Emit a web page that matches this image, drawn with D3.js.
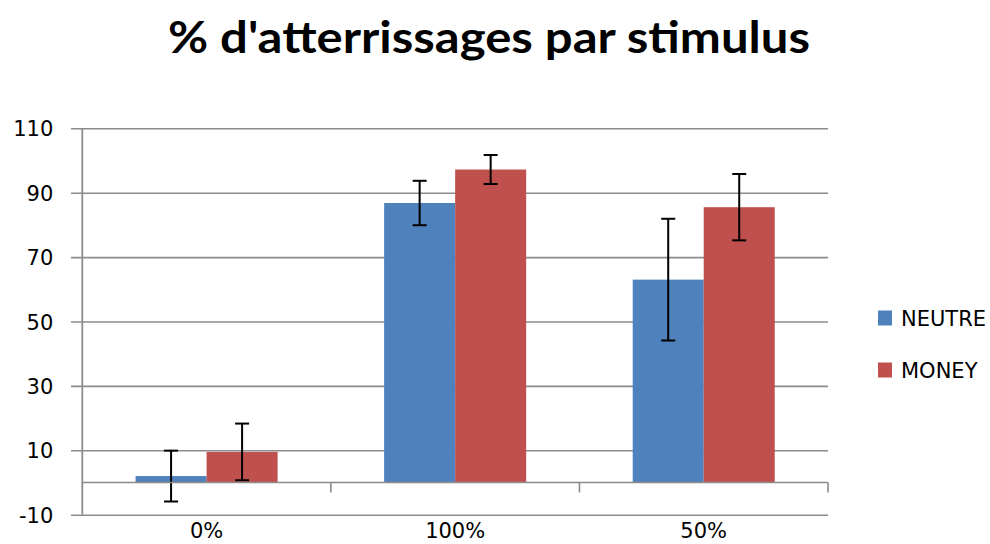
<!DOCTYPE html>
<html>
<head>
<meta charset="utf-8">
<script src="https://cdn.jsdelivr.net/npm/d3@7"></script>
<style>
  html, body { margin: 0; padding: 0; background: #fff; }
  svg { display: block; }
</style>
</head>
<body>
<svg id="chart" width="990" height="544"></svg>
<script>
// ---- Data ----
const categories = ["0%", "100%", "50%"];
const seriesNames = ["NEUTRE", "MONEY"];
const neutreValues = [2, 86.8, 63];
const moneyValues = [9.5, 97.2, 85.5];
const neutreErrors = [7.9, 6.9, 18.9];
const moneyErrors = [8.8, 4.5, 10.3];
const yTicks = [-10, 10, 30, 50, 70, 90, 110];
const seriesColors = ["#4F81BD", "#C0504D"];
const titleText = "% d'atterrissages par stimulus";

const seriesValues = [neutreValues, moneyValues];
const seriesErrors = [neutreErrors, moneyErrors];

// ---- Layout ----
const svg = d3.select("#chart");
const pLeft = 82.3, pRight = 828, pTop = 128.3, pBottom = 514.7;

const y = d3.scaleLinear().domain([-10, 110]).range([pBottom, pTop]);
const x0 = d3.scaleBand().domain(categories).range([pLeft, pRight]).padding(0);
const W = x0.bandwidth();
const gapHalf = W * 0.75 / 3.5;
const x1 = d3.scaleBand().domain(seriesNames).range([gapHalf, W - gapHalf]).padding(0);

const gridColor = "#8c8c8c";

// Title
svg.append("text")
  .attr("x", 489).attr("y", 53)
  .attr("text-anchor", "middle")
  .attr("font-family", "Lato, 'Open Sans', sans-serif")
  .attr("font-weight", "bold")
  .attr("font-size", 44)
  .attr("fill", "#000")
  .attr("textLength", 642)
  .attr("lengthAdjust", "spacingAndGlyphs")
  .text(titleText);

// Gridlines (with tick stubs to the left)
const yAxis = d3.axisLeft(y).tickValues(yTicks).tickFormat(d => String(d))
  .tickSize(-(pRight - pLeft)).tickSizeOuter(0).tickPadding(17);
const gY = svg.append("g").attr("transform", `translate(${pLeft},0)`).call(yAxis);
gY.select(".domain").remove();
gY.selectAll(".tick line").attr("stroke", gridColor).attr("stroke-width", 1.6).attr("x1", -11.3);
gY.selectAll(".tick text")
  .attr("font-family", "'DejaVu Sans', sans-serif")
  .attr("font-size", 21)
  .attr("fill", "#000")
  .attr("x", -29)
  .attr("dy", "0.36em");

// Vertical axis line
svg.append("line")
  .attr("x1", pLeft).attr("x2", pLeft)
  .attr("y1", y(110)).attr("y2", y(-10))
  .attr("stroke", gridColor).attr("stroke-width", 1.8);

// Bars
const groups = svg.append("g").selectAll("g")
  .data(categories)
  .join("g")
  .attr("transform", d => `translate(${x0(d)},0)`);

groups.each(function(cat, ci) {
  const g = d3.select(this);
  seriesNames.forEach((s, si) => {
    const v = seriesValues[si][ci];
    g.append("rect")
      .attr("x", x1(s))
      .attr("width", x1.bandwidth())
      .attr("y", y(Math.max(0, v)))
      .attr("height", Math.abs(y(v) - y(0)))
      .attr("fill", seriesColors[si]);
  });
});

// Category axis at zero
const xAxis = d3.axisBottom(x0).tickSize(0).tickSizeOuter(0);
svg.append("line")
  .attr("x1", pLeft).attr("x2", pRight)
  .attr("y1", y(0)).attr("y2", y(0))
  .attr("stroke", gridColor).attr("stroke-width", 1.6);
const boundaries = categories.map(c => x0(c) + W);
svg.append("g").selectAll("line")
  .data(boundaries)
  .join("line")
  .attr("x1", d => d).attr("x2", d => d)
  .attr("y1", y(0)).attr("y2", y(0) + 10)
  .attr("stroke", gridColor).attr("stroke-width", 1.6);

// Category labels at bottom
const gX = svg.append("g").attr("transform", `translate(0,${pBottom})`).call(xAxis);
gX.select(".domain").remove();
gX.selectAll(".tick text")
  .attr("font-family", "'DejaVu Sans', sans-serif")
  .attr("font-size", 21)
  .attr("fill", "#000")
  .attr("y", 8)
  .attr("dy", "0.71em");

// Error bars
const cap = 7;
groups.each(function(cat, ci) {
  const g = d3.select(this);
  seriesNames.forEach((s, si) => {
    const v = seriesValues[si][ci];
    const e = seriesErrors[si][ci];
    const cx = x1(s) + x1.bandwidth() / 2;
    const eb = g.append("g").attr("stroke", "#000").attr("stroke-width", 2);
    eb.append("line").attr("x1", cx).attr("x2", cx).attr("y1", y(v + e)).attr("y2", y(v - e));
    eb.append("line").attr("x1", cx - cap).attr("x2", cx + cap).attr("y1", y(v + e)).attr("y2", y(v + e));
    eb.append("line").attr("x1", cx - cap).attr("x2", cx + cap).attr("y1", y(v - e)).attr("y2", y(v - e));
  });
});

// Legend
const legend = svg.append("g").selectAll("g")
  .data(seriesNames)
  .join("g")
  .attr("transform", (d, i) => `translate(878,${318 + i * 52})`);
legend.append("rect")
  .attr("x", 0).attr("y", -7.5).attr("width", 14).attr("height", 15)
  .attr("fill", (d, i) => seriesColors[i]);
legend.append("text")
  .attr("x", 23).attr("y", 0).attr("dy", "0.36em")
  .attr("font-family", "'DejaVu Sans', sans-serif")
  .attr("font-size", 21)
  .attr("fill", "#000")
  .text(d => d);
</script>
</body>
</html>
